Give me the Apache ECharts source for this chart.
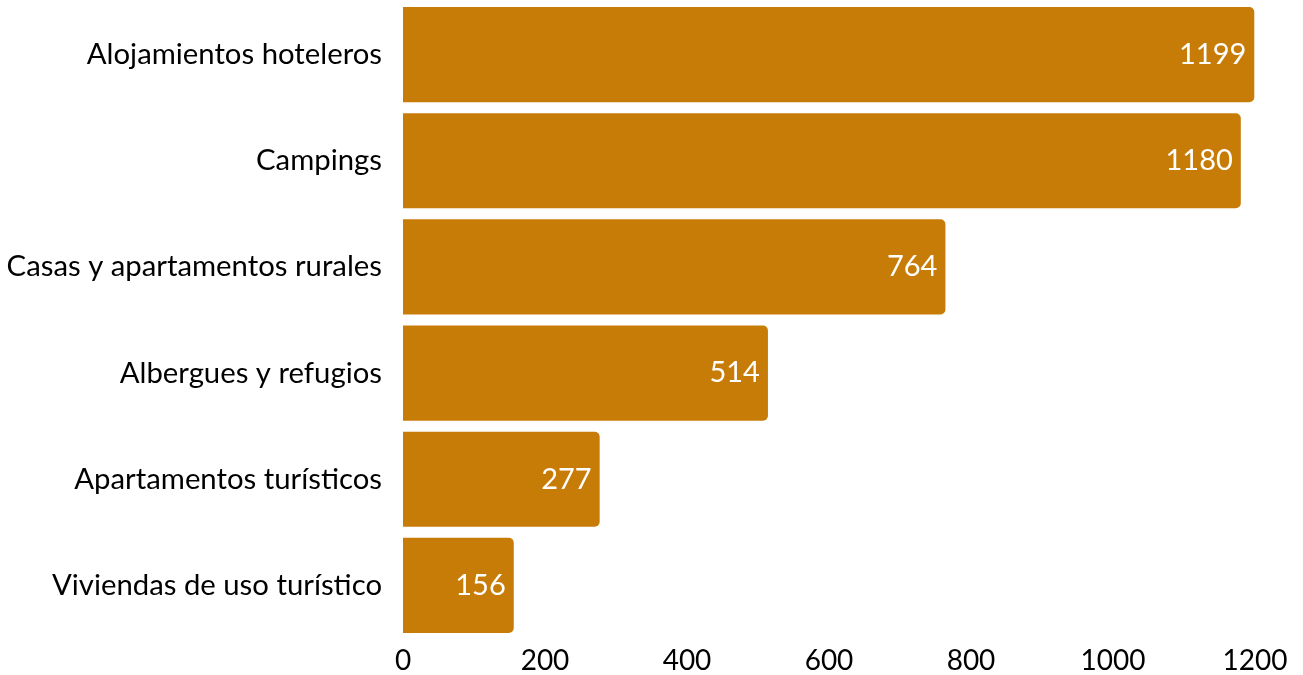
<!DOCTYPE html>
<html>
<head>
<meta charset="utf-8">
<script src="https://cdn.jsdelivr.net/npm/echarts@6/dist/echarts.min.js"></script>
<style>html,body{margin:0;padding:0;background:#fff}#c{width:1303px;height:675px}</style>
</head>
<body>
<div id="c"></div>
<script>
const categories = ["Alojamientos hoteleros","Campings","Casas y apartamentos rurales","Albergues y refugios","Apartamentos turísticos","Viviendas de uso turístico"];
const values = [1199,1180,764,514,277,156];
const xTicks = [0,200,400,600,800,1000,1200];

const chart = echarts.init(document.getElementById('c'));
chart.setOption({
  animation:false,
  grid:{left:403,right:48,top:1.5,height:637,containLabel:false},
  xAxis:{type:'value',min:xTicks[0],max:xTicks[xTicks.length-1],interval:200,
    axisLine:{show:false},axisTick:{show:false},splitLine:{show:false},
    axisLabel:{color:'#000',fontFamily:'Lato',fontSize:28,margin:8,formatter:v=>String(v)}},
  yAxis:{type:'category',data:categories,inverse:true,
    axisLine:{show:false},axisTick:{show:false},
    axisLabel:{color:'#000',fontFamily:'Lato',fontSize:29.3,margin:21}},
  series:[{type:'bar',data:values,barCategoryGap:'10.4%',
    itemStyle:{color:'#C77C07',borderRadius:[0,5,5,0]},
    label:{show:true,position:'insideRight',color:'#fff',fontFamily:'Lato',fontSize:29,distance:8}}]
});
</script>
</body>
</html>
